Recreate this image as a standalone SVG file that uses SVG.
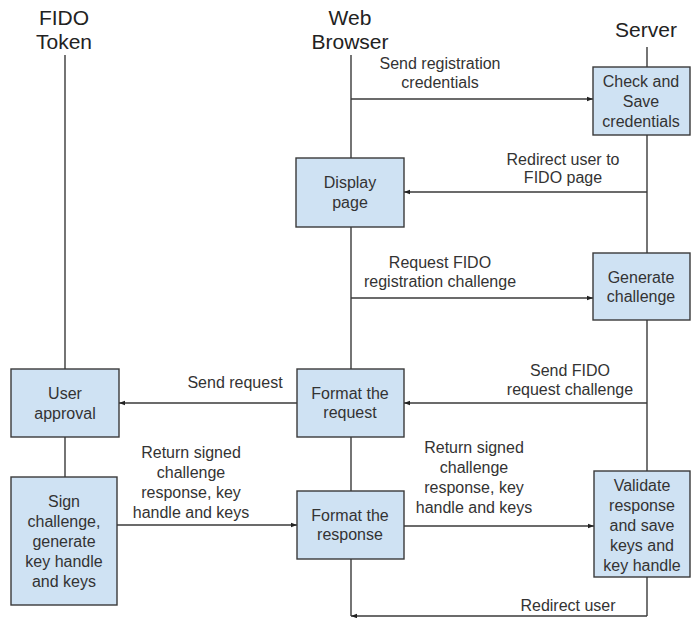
<svg xmlns="http://www.w3.org/2000/svg" width="691" height="618" viewBox="0 0 691 618">
<style>
.title{font-family:"Liberation Sans",Arial,sans-serif;font-size:21px;fill:#222;text-anchor:middle}
.t{font-family:"Liberation Sans",Arial,sans-serif;font-size:16px;fill:#333;text-anchor:middle}
.box{fill:#cfe2f3;stroke:#3a3a3a;stroke-width:1.4}
.life{stroke:#3a3a3a;stroke-width:1.4;fill:none}
.msg{stroke:#3a3a3a;stroke-width:1.4;fill:none;marker-end:url(#ah)}
</style>
<defs>
<marker id="ah" viewBox="0 0 8 8" refX="8" refY="4" markerWidth="6" markerHeight="6" markerUnits="userSpaceOnUse" orient="auto">
<path d="M0,1 L8,4 L0,7 z" fill="#222"/>
</marker>
</defs>
<g id="titles">
<text class="title" x="64" y="25">FIDO</text>
<text class="title" x="64" y="49">Token</text>
<text class="title" x="350" y="25">Web</text>
<text class="title" x="350" y="49">Browser</text>
<text class="title" x="646" y="37">Server</text>
</g>
<g id="lifelines">
<line class="life" x1="65" y1="55" x2="65" y2="478"/>
<line class="life" x1="351" y1="55" x2="351" y2="616"/>
<line class="life" x1="647" y1="47" x2="647" y2="616"/>
</g>
<g id="connectors">
<line class="msg" x1="351" y1="99" x2="593" y2="99"/>
<text class="t" x="440" y="69">Send registration</text>
<text class="t" x="440" y="88">credentials</text>
<line class="msg" x1="647" y1="192" x2="404" y2="192"/>
<text class="t" x="563" y="165">Redirect user to</text>
<text class="t" x="563" y="183">FIDO page</text>
<line class="msg" x1="351" y1="298" x2="593" y2="298"/>
<text class="t" x="440" y="268">Request FIDO</text>
<text class="t" x="440" y="287">registration challenge</text>
<line class="msg" x1="297" y1="403" x2="119" y2="403"/>
<text class="t" x="235" y="388">Send request</text>
<line class="msg" x1="647" y1="403" x2="404" y2="403"/>
<text class="t" x="570" y="376">Send FIDO</text>
<text class="t" x="570" y="395">request challenge</text>
<line class="msg" x1="117" y1="525" x2="297" y2="525"/>
<text class="t" x="191" y="458">Return signed</text>
<text class="t" x="191" y="478">challenge</text>
<text class="t" x="191" y="498">response, key</text>
<text class="t" x="191" y="518">handle and keys</text>
<line class="msg" x1="404" y1="526" x2="594" y2="526"/>
<text class="t" x="474" y="453">Return signed</text>
<text class="t" x="474" y="473">challenge</text>
<text class="t" x="474" y="493">response, key</text>
<text class="t" x="474" y="513">handle and keys</text>
<line class="msg" x1="647" y1="616" x2="351" y2="616"/>
<text class="t" x="568" y="611">Redirect user</text>
</g>
<g id="check-save">
<rect class="box" x="593" y="67" width="97" height="68"/>
<text class="t" x="641" y="87">Check and</text>
<text class="t" x="641" y="107">Save</text>
<text class="t" x="641" y="127">credentials</text>
</g>
<g id="display-page">
<rect class="box" x="296" y="158" width="108" height="69"/>
<text class="t" x="350" y="188">Display</text>
<text class="t" x="350" y="208">page</text>
</g>
<g id="generate-challenge">
<rect class="box" x="593" y="253" width="97" height="67"/>
<text class="t" x="641" y="283">Generate</text>
<text class="t" x="641" y="302">challenge</text>
</g>
<g id="user-approval">
<rect class="box" x="11" y="369" width="108" height="68"/>
<text class="t" x="65" y="399">User</text>
<text class="t" x="65" y="419">approval</text>
</g>
<g id="format-request">
<rect class="box" x="297" y="369" width="107" height="68"/>
<text class="t" x="350" y="399">Format the</text>
<text class="t" x="350" y="418">request</text>
</g>
<g id="sign-challenge">
<rect class="box" x="11" y="477" width="106" height="128"/>
<text class="t" x="64" y="507">Sign</text>
<text class="t" x="64" y="527">challenge,</text>
<text class="t" x="64" y="547">generate</text>
<text class="t" x="64" y="567">key handle</text>
<text class="t" x="64" y="587">and keys</text>
</g>
<g id="format-response">
<rect class="box" x="297" y="491" width="107" height="68"/>
<text class="t" x="350" y="521">Format the</text>
<text class="t" x="350" y="540">response</text>
</g>
<g id="validate">
<rect class="box" x="594" y="471" width="96" height="106"/>
<text class="t" x="642" y="491">Validate</text>
<text class="t" x="642" y="511">response</text>
<text class="t" x="642" y="531">and save</text>
<text class="t" x="642" y="551">keys and</text>
<text class="t" x="642" y="571">key handle</text>
</g>
</svg>
